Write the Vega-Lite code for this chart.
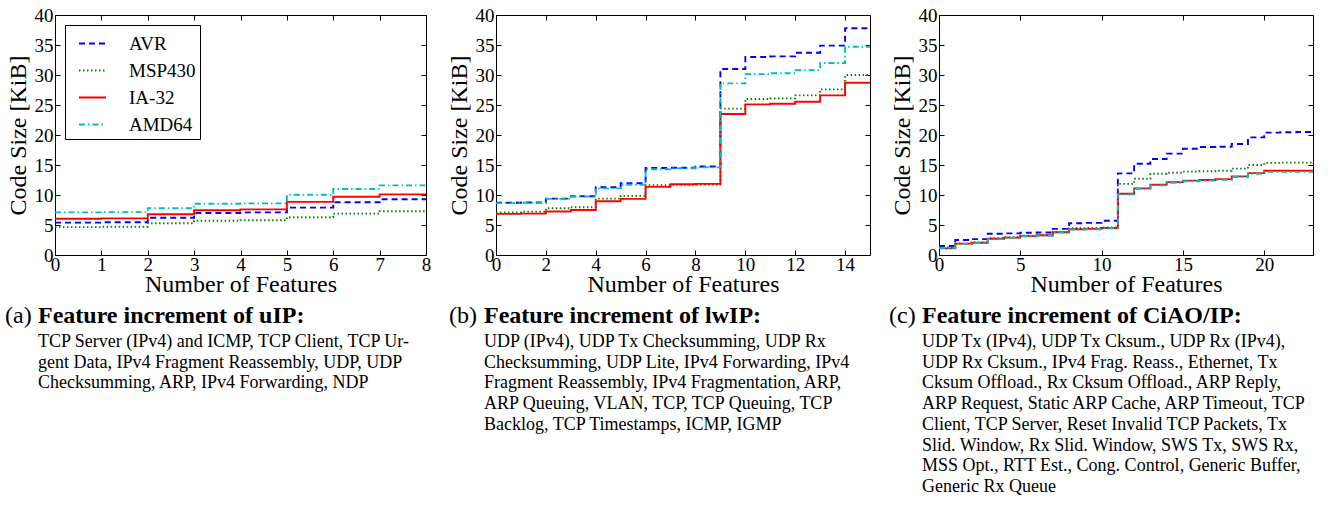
{
  "$schema": "https://vega.github.io/schema/vega-lite/v6.json",
  "padding": {"left": 5, "top": 5, "right": 0, "bottom": 0},
  "background": "white",
  "config": {
    "font": "Liberation Serif",
    "view": {"stroke": "black", "strokeWidth": 1},
    "axis": {
      "grid": false, "domain": false, "tickColor": "black", "tickSize": -5, "tickWidth": 1,
      "labelPadding": 7, "labelFontSize": 19, "labelColor": "black", "labelFlush": false, "labelOverlap": false,
      "titleFontSize": 24, "titleFontWeight": "normal", "titleColor": "black"
    },
    "axisX": {"titlePadding": -2, "labelPadding": 5},
    "legend": {
      "orient": "top-left", "offset": 10, "title": null, "padding": 4, "symbolOffset": 9,
      "strokeColor": "black", "fillColor": "white", "cornerRadius": 0,
      "labelFontSize": 19, "labelColor": "black", "labelOffset": 22, "rowPadding": 2,
      "symbolType": "stroke", "symbolSize": 729, "symbolStrokeWidth": 1.9
    }
  },
  "datasets": {
    "steps": [
      {"stack":"uIP","arch":"AVR","features":0,"kib":5.4},{"stack":"uIP","arch":"AVR","features":1,"kib":5.45},{"stack":"uIP","arch":"AVR","features":2,"kib":6.2},{"stack":"uIP","arch":"AVR","features":3,"kib":7.0},{"stack":"uIP","arch":"AVR","features":4,"kib":7.1},{"stack":"uIP","arch":"AVR","features":5,"kib":7.9},{"stack":"uIP","arch":"AVR","features":6,"kib":8.8},{"stack":"uIP","arch":"AVR","features":7,"kib":9.3},{"stack":"uIP","arch":"AVR","features":8,"kib":9.3},
      {"stack":"uIP","arch":"MSP430","features":0,"kib":4.65},{"stack":"uIP","arch":"MSP430","features":1,"kib":4.7},{"stack":"uIP","arch":"MSP430","features":2,"kib":5.3},{"stack":"uIP","arch":"MSP430","features":3,"kib":5.7},{"stack":"uIP","arch":"MSP430","features":4,"kib":5.8},{"stack":"uIP","arch":"MSP430","features":5,"kib":6.3},{"stack":"uIP","arch":"MSP430","features":6,"kib":6.9},{"stack":"uIP","arch":"MSP430","features":7,"kib":7.3},{"stack":"uIP","arch":"MSP430","features":8,"kib":7.3},
      {"stack":"uIP","arch":"IA-32","features":0,"kib":6.05},{"stack":"uIP","arch":"IA-32","features":1,"kib":6.1},{"stack":"uIP","arch":"IA-32","features":2,"kib":6.8},{"stack":"uIP","arch":"IA-32","features":3,"kib":7.45},{"stack":"uIP","arch":"IA-32","features":4,"kib":7.6},{"stack":"uIP","arch":"IA-32","features":5,"kib":8.85},{"stack":"uIP","arch":"IA-32","features":6,"kib":9.7},{"stack":"uIP","arch":"IA-32","features":7,"kib":10.1},{"stack":"uIP","arch":"IA-32","features":8,"kib":10.1},
      {"stack":"uIP","arch":"AMD64","features":0,"kib":7.1},{"stack":"uIP","arch":"AMD64","features":1,"kib":7.15},{"stack":"uIP","arch":"AMD64","features":2,"kib":7.8},{"stack":"uIP","arch":"AMD64","features":3,"kib":8.55},{"stack":"uIP","arch":"AMD64","features":4,"kib":8.6},{"stack":"uIP","arch":"AMD64","features":5,"kib":10.05},{"stack":"uIP","arch":"AMD64","features":6,"kib":11.0},{"stack":"uIP","arch":"AMD64","features":7,"kib":11.6},{"stack":"uIP","arch":"AMD64","features":8,"kib":11.6},

      {"stack":"lwIP","arch":"AVR","features":0,"kib":8.7},{"stack":"lwIP","arch":"AVR","features":1,"kib":8.75},{"stack":"lwIP","arch":"AVR","features":2,"kib":9.4},{"stack":"lwIP","arch":"AVR","features":3,"kib":9.8},{"stack":"lwIP","arch":"AVR","features":4,"kib":11.3},{"stack":"lwIP","arch":"AVR","features":5,"kib":11.95},{"stack":"lwIP","arch":"AVR","features":6,"kib":14.5},{"stack":"lwIP","arch":"AVR","features":7,"kib":14.55},{"stack":"lwIP","arch":"AVR","features":8,"kib":14.75},{"stack":"lwIP","arch":"AVR","features":9,"kib":31.0},{"stack":"lwIP","arch":"AVR","features":10,"kib":33.0},{"stack":"lwIP","arch":"AVR","features":11,"kib":33.1},{"stack":"lwIP","arch":"AVR","features":12,"kib":33.7},{"stack":"lwIP","arch":"AVR","features":13,"kib":34.9},{"stack":"lwIP","arch":"AVR","features":14,"kib":37.8},{"stack":"lwIP","arch":"AVR","features":15,"kib":37.8},
      {"stack":"lwIP","arch":"MSP430","features":0,"kib":7.1},{"stack":"lwIP","arch":"MSP430","features":1,"kib":7.2},{"stack":"lwIP","arch":"MSP430","features":2,"kib":7.8},{"stack":"lwIP","arch":"MSP430","features":3,"kib":7.95},{"stack":"lwIP","arch":"MSP430","features":4,"kib":9.4},{"stack":"lwIP","arch":"MSP430","features":5,"kib":9.85},{"stack":"lwIP","arch":"MSP430","features":6,"kib":11.65},{"stack":"lwIP","arch":"MSP430","features":7,"kib":11.7},{"stack":"lwIP","arch":"MSP430","features":8,"kib":11.75},{"stack":"lwIP","arch":"MSP430","features":9,"kib":24.4},{"stack":"lwIP","arch":"MSP430","features":10,"kib":26.0},{"stack":"lwIP","arch":"MSP430","features":11,"kib":26.1},{"stack":"lwIP","arch":"MSP430","features":12,"kib":26.6},{"stack":"lwIP","arch":"MSP430","features":13,"kib":27.6},{"stack":"lwIP","arch":"MSP430","features":14,"kib":30.0},{"stack":"lwIP","arch":"MSP430","features":15,"kib":30.0},
      {"stack":"lwIP","arch":"IA-32","features":0,"kib":6.85},{"stack":"lwIP","arch":"IA-32","features":1,"kib":6.9},{"stack":"lwIP","arch":"IA-32","features":2,"kib":7.25},{"stack":"lwIP","arch":"IA-32","features":3,"kib":7.5},{"stack":"lwIP","arch":"IA-32","features":4,"kib":8.95},{"stack":"lwIP","arch":"IA-32","features":5,"kib":9.35},{"stack":"lwIP","arch":"IA-32","features":6,"kib":11.35},{"stack":"lwIP","arch":"IA-32","features":7,"kib":11.8},{"stack":"lwIP","arch":"IA-32","features":8,"kib":11.85},{"stack":"lwIP","arch":"IA-32","features":9,"kib":23.5},{"stack":"lwIP","arch":"IA-32","features":10,"kib":25.1},{"stack":"lwIP","arch":"IA-32","features":11,"kib":25.2},{"stack":"lwIP","arch":"IA-32","features":12,"kib":25.55},{"stack":"lwIP","arch":"IA-32","features":13,"kib":26.6},{"stack":"lwIP","arch":"IA-32","features":14,"kib":28.7},{"stack":"lwIP","arch":"IA-32","features":15,"kib":28.7},
      {"stack":"lwIP","arch":"AMD64","features":0,"kib":8.65},{"stack":"lwIP","arch":"AMD64","features":1,"kib":8.7},{"stack":"lwIP","arch":"AMD64","features":2,"kib":9.35},{"stack":"lwIP","arch":"AMD64","features":3,"kib":9.75},{"stack":"lwIP","arch":"AMD64","features":4,"kib":11.1},{"stack":"lwIP","arch":"AMD64","features":5,"kib":11.7},{"stack":"lwIP","arch":"AMD64","features":6,"kib":14.3},{"stack":"lwIP","arch":"AMD64","features":7,"kib":14.45},{"stack":"lwIP","arch":"AMD64","features":8,"kib":14.6},{"stack":"lwIP","arch":"AMD64","features":9,"kib":28.6},{"stack":"lwIP","arch":"AMD64","features":10,"kib":30.15},{"stack":"lwIP","arch":"AMD64","features":11,"kib":30.3},{"stack":"lwIP","arch":"AMD64","features":12,"kib":30.8},{"stack":"lwIP","arch":"AMD64","features":13,"kib":32.0},{"stack":"lwIP","arch":"AMD64","features":14,"kib":34.7},{"stack":"lwIP","arch":"AMD64","features":15,"kib":34.7},

      {"stack":"CiAO","arch":"AVR","features":0,"kib":1.5},{"stack":"CiAO","arch":"AVR","features":1,"kib":2.5},{"stack":"CiAO","arch":"AVR","features":2,"kib":2.65},{"stack":"CiAO","arch":"AVR","features":3,"kib":3.55},{"stack":"CiAO","arch":"AVR","features":4,"kib":3.6},{"stack":"CiAO","arch":"AVR","features":5,"kib":3.7},{"stack":"CiAO","arch":"AVR","features":6,"kib":3.75},{"stack":"CiAO","arch":"AVR","features":7,"kib":4.35},{"stack":"CiAO","arch":"AVR","features":8,"kib":5.3},{"stack":"CiAO","arch":"AVR","features":9,"kib":5.35},{"stack":"CiAO","arch":"AVR","features":10,"kib":5.7},{"stack":"CiAO","arch":"AVR","features":11,"kib":13.6},{"stack":"CiAO","arch":"AVR","features":12,"kib":15.2},{"stack":"CiAO","arch":"AVR","features":13,"kib":16.0},{"stack":"CiAO","arch":"AVR","features":14,"kib":16.9},{"stack":"CiAO","arch":"AVR","features":15,"kib":17.7},{"stack":"CiAO","arch":"AVR","features":16,"kib":18.0},{"stack":"CiAO","arch":"AVR","features":17,"kib":18.05},{"stack":"CiAO","arch":"AVR","features":18,"kib":18.5},{"stack":"CiAO","arch":"AVR","features":19,"kib":19.6},{"stack":"CiAO","arch":"AVR","features":20,"kib":20.4},{"stack":"CiAO","arch":"AVR","features":21,"kib":20.45},{"stack":"CiAO","arch":"AVR","features":22,"kib":20.5},{"stack":"CiAO","arch":"AVR","features":23,"kib":20.5},
      {"stack":"CiAO","arch":"MSP430","features":0,"kib":1.25},{"stack":"CiAO","arch":"MSP430","features":1,"kib":1.9},{"stack":"CiAO","arch":"MSP430","features":2,"kib":2.1},{"stack":"CiAO","arch":"MSP430","features":3,"kib":2.8},{"stack":"CiAO","arch":"MSP430","features":4,"kib":2.95},{"stack":"CiAO","arch":"MSP430","features":5,"kib":3.2},{"stack":"CiAO","arch":"MSP430","features":6,"kib":3.3},{"stack":"CiAO","arch":"MSP430","features":7,"kib":3.85},{"stack":"CiAO","arch":"MSP430","features":8,"kib":4.45},{"stack":"CiAO","arch":"MSP430","features":9,"kib":4.5},{"stack":"CiAO","arch":"MSP430","features":10,"kib":4.6},{"stack":"CiAO","arch":"MSP430","features":11,"kib":11.85},{"stack":"CiAO","arch":"MSP430","features":12,"kib":12.7},{"stack":"CiAO","arch":"MSP430","features":13,"kib":13.55},{"stack":"CiAO","arch":"MSP430","features":14,"kib":13.7},{"stack":"CiAO","arch":"MSP430","features":15,"kib":13.9},{"stack":"CiAO","arch":"MSP430","features":16,"kib":13.95},{"stack":"CiAO","arch":"MSP430","features":17,"kib":14.05},{"stack":"CiAO","arch":"MSP430","features":18,"kib":14.4},{"stack":"CiAO","arch":"MSP430","features":19,"kib":15.0},{"stack":"CiAO","arch":"MSP430","features":20,"kib":15.35},{"stack":"CiAO","arch":"MSP430","features":21,"kib":15.4},{"stack":"CiAO","arch":"MSP430","features":22,"kib":15.4},{"stack":"CiAO","arch":"MSP430","features":23,"kib":15.4},
      {"stack":"CiAO","arch":"IA-32","features":0,"kib":1.1},{"stack":"CiAO","arch":"IA-32","features":1,"kib":1.9},{"stack":"CiAO","arch":"IA-32","features":2,"kib":2.05},{"stack":"CiAO","arch":"IA-32","features":3,"kib":2.7},{"stack":"CiAO","arch":"IA-32","features":4,"kib":2.9},{"stack":"CiAO","arch":"IA-32","features":5,"kib":3.15},{"stack":"CiAO","arch":"IA-32","features":6,"kib":3.3},{"stack":"CiAO","arch":"IA-32","features":7,"kib":3.8},{"stack":"CiAO","arch":"IA-32","features":8,"kib":4.3},{"stack":"CiAO","arch":"IA-32","features":9,"kib":4.35},{"stack":"CiAO","arch":"IA-32","features":10,"kib":4.5},{"stack":"CiAO","arch":"IA-32","features":11,"kib":10.2},{"stack":"CiAO","arch":"IA-32","features":12,"kib":11.1},{"stack":"CiAO","arch":"IA-32","features":13,"kib":11.7},{"stack":"CiAO","arch":"IA-32","features":14,"kib":12.15},{"stack":"CiAO","arch":"IA-32","features":15,"kib":12.4},{"stack":"CiAO","arch":"IA-32","features":16,"kib":12.5},{"stack":"CiAO","arch":"IA-32","features":17,"kib":12.65},{"stack":"CiAO","arch":"IA-32","features":18,"kib":13.1},{"stack":"CiAO","arch":"IA-32","features":19,"kib":13.65},{"stack":"CiAO","arch":"IA-32","features":20,"kib":14.05},{"stack":"CiAO","arch":"IA-32","features":21,"kib":14.05},{"stack":"CiAO","arch":"IA-32","features":22,"kib":14.05},{"stack":"CiAO","arch":"IA-32","features":23,"kib":14.05},
      {"stack":"CiAO","arch":"AMD64","features":0,"kib":1.15},{"stack":"CiAO","arch":"AMD64","features":1,"kib":1.85},{"stack":"CiAO","arch":"AMD64","features":2,"kib":2.0},{"stack":"CiAO","arch":"AMD64","features":3,"kib":2.65},{"stack":"CiAO","arch":"AMD64","features":4,"kib":2.85},{"stack":"CiAO","arch":"AMD64","features":5,"kib":3.1},{"stack":"CiAO","arch":"AMD64","features":6,"kib":3.25},{"stack":"CiAO","arch":"AMD64","features":7,"kib":3.75},{"stack":"CiAO","arch":"AMD64","features":8,"kib":4.25},{"stack":"CiAO","arch":"AMD64","features":9,"kib":4.3},{"stack":"CiAO","arch":"AMD64","features":10,"kib":4.45},{"stack":"CiAO","arch":"AMD64","features":11,"kib":10.1},{"stack":"CiAO","arch":"AMD64","features":12,"kib":11.05},{"stack":"CiAO","arch":"AMD64","features":13,"kib":11.6},{"stack":"CiAO","arch":"AMD64","features":14,"kib":12.05},{"stack":"CiAO","arch":"AMD64","features":15,"kib":12.3},{"stack":"CiAO","arch":"AMD64","features":16,"kib":12.4},{"stack":"CiAO","arch":"AMD64","features":17,"kib":12.55},{"stack":"CiAO","arch":"AMD64","features":18,"kib":13.0},{"stack":"CiAO","arch":"AMD64","features":19,"kib":13.55},{"stack":"CiAO","arch":"AMD64","features":20,"kib":13.85},{"stack":"CiAO","arch":"AMD64","features":21,"kib":13.85},{"stack":"CiAO","arch":"AMD64","features":22,"kib":13.85},{"stack":"CiAO","arch":"AMD64","features":23,"kib":13.85}
    ],
    "captions": [
      {"stack":"uIP","role":"label","line":0,"text":"(a)"},
      {"stack":"uIP","role":"heading","line":0,"text":"Feature increment of uIP:"},
      {"stack":"uIP","role":"body","line":1,"text":"TCP Server (IPv4) and ICMP, TCP Client, TCP Ur-"},
      {"stack":"uIP","role":"body","line":2,"text":"gent Data, IPv4 Fragment Reassembly, UDP, UDP"},
      {"stack":"uIP","role":"body","line":3,"text":"Checksumming, ARP, IPv4 Forwarding, NDP"},
      {"stack":"lwIP","role":"label","line":0,"text":"(b)"},
      {"stack":"lwIP","role":"heading","line":0,"text":"Feature increment of lwIP:"},
      {"stack":"lwIP","role":"body","line":1,"text":"UDP (IPv4), UDP Tx Checksumming, UDP Rx"},
      {"stack":"lwIP","role":"body","line":2,"text":"Checksumming, UDP Lite, IPv4 Forwarding, IPv4"},
      {"stack":"lwIP","role":"body","line":3,"text":"Fragment Reassembly, IPv4 Fragmentation, ARP,"},
      {"stack":"lwIP","role":"body","line":4,"text":"ARP Queuing, VLAN, TCP, TCP Queuing, TCP"},
      {"stack":"lwIP","role":"body","line":5,"text":"Backlog, TCP Timestamps, ICMP, IGMP"},
      {"stack":"CiAO","role":"label","line":0,"text":"(c)"},
      {"stack":"CiAO","role":"heading","line":0,"text":"Feature increment of CiAO/IP:"},
      {"stack":"CiAO","role":"body","line":1,"text":"UDP Tx (IPv4), UDP Tx Cksum., UDP Rx (IPv4),"},
      {"stack":"CiAO","role":"body","line":2,"text":"UDP Rx Cksum., IPv4 Frag.  Reass., Ethernet, Tx"},
      {"stack":"CiAO","role":"body","line":3,"text":"Cksum Offload., Rx Cksum Offload., ARP Reply,"},
      {"stack":"CiAO","role":"body","line":4,"text":"ARP Request, Static ARP Cache, ARP Timeout, TCP"},
      {"stack":"CiAO","role":"body","line":5,"text":"Client, TCP Server, Reset Invalid TCP Packets, Tx"},
      {"stack":"CiAO","role":"body","line":6,"text":"Slid. Window, Rx Slid. Window, SWS Tx, SWS Rx,"},
      {"stack":"CiAO","role":"body","line":7,"text":"MSS Opt., RTT Est., Cong. Control, Generic Buffer,"},
      {"stack":"CiAO","role":"body","line":8,"text":"Generic Rx Queue"}
    ]
  },
  "columns": 1,
  "align": "none",
  "spacing": 6,
  "concat": [
    {
      "spacing": 14,
      "hconcat": [
        {
          "width": 371, "height": 240,
          "data": {"name": "steps"},
          "transform": [{"filter": "datum.stack == 'uIP'"}],
          "encoding": {
            "x": {"field": "features", "type": "quantitative", "scale": {"domain": [0, 8], "nice": false}, "title": "Number of Features", "axis": {"values": [0,1,2,3,4,5,6,7,8]}},
            "y": {"field": "kib", "type": "quantitative", "scale": {"domain": [0, 40], "nice": false}, "title": "Code Size [KiB]", "axis": {"values": [0,5,10,15,20,25,30,35,40]}},
            "color": {"field": "arch", "type": "nominal", "scale": {"domain": ["AVR","MSP430","IA-32","AMD64"], "range": ["#0000ff","#008000","#ff0000","#00bfbf"]}},
            "strokeDash": {"field": "arch", "type": "nominal", "scale": {"domain": ["AVR","MSP430","IA-32","AMD64"], "range": [[6,4],[1.5,2.5],[1,0],[6,3,1.5,3]]}}
          },
          "layer": [
            {"transform": [{"filter": "datum.arch != 'AMD64'"}], "mark": {"type": "line", "interpolate": "step-after", "strokeWidth": 1.9}},
            {"transform": [{"filter": "datum.arch == 'AMD64'"}], "mark": {"type": "line", "interpolate": "step-after", "strokeWidth": 1.9},
             "encoding": {
               "x": {"field": "features", "type": "quantitative", "scale": {"domain": [0, 8], "nice": false}, "axis": {"orient": "top", "labels": false, "title": null, "values": [0,1,2,3,4,5,6,7,8]}},
               "y": {"field": "kib", "type": "quantitative", "scale": {"domain": [0, 40], "nice": false}, "axis": {"orient": "right", "labels": false, "title": null, "values": [0,5,10,15,20,25,30,35,40]}}
             }}
          ],
          "resolve": {"axis": {"x": "independent", "y": "independent"}}
        },
        {
          "width": 374, "height": 240,
          "data": {"name": "steps"},
          "transform": [{"filter": "datum.stack == 'lwIP'"}],
          "encoding": {
            "x": {"field": "features", "type": "quantitative", "scale": {"domain": [0, 15], "nice": false}, "title": "Number of Features", "axis": {"values": [0,2,4,6,8,10,12,14]}},
            "y": {"field": "kib", "type": "quantitative", "scale": {"domain": [0, 40], "nice": false}, "title": "Code Size [KiB]", "axis": {"values": [0,5,10,15,20,25,30,35,40]}},
            "color": {"field": "arch", "type": "nominal", "scale": {"domain": ["AVR","MSP430","IA-32","AMD64"], "range": ["#0000ff","#008000","#ff0000","#00bfbf"]}},
            "strokeDash": {"field": "arch", "type": "nominal", "scale": {"domain": ["AVR","MSP430","IA-32","AMD64"], "range": [[6,4],[1.5,2.5],[1,0],[6,3,1.5,3]]}}
          },
          "layer": [
            {"transform": [{"filter": "datum.arch != 'AMD64'"}], "mark": {"type": "line", "interpolate": "step-after", "strokeWidth": 1.9}},
            {"transform": [{"filter": "datum.arch == 'AMD64'"}], "mark": {"type": "line", "interpolate": "step-after", "strokeWidth": 1.9},
             "encoding": {
               "x": {"field": "features", "type": "quantitative", "scale": {"domain": [0, 15], "nice": false}, "axis": {"orient": "top", "labels": false, "title": null, "values": [0,2,4,6,8,10,12,14]}},
               "y": {"field": "kib", "type": "quantitative", "scale": {"domain": [0, 40], "nice": false}, "axis": {"orient": "right", "labels": false, "title": null, "values": [0,5,10,15,20,25,30,35,40]}}
             }}
          ],
          "resolve": {"axis": {"x": "independent", "y": "independent"}}
        },
        {
          "width": 374, "height": 240,
          "data": {"name": "steps"},
          "transform": [{"filter": "datum.stack == 'CiAO'"}],
          "encoding": {
            "x": {"field": "features", "type": "quantitative", "scale": {"domain": [0, 23], "nice": false}, "title": "Number of Features", "axis": {"values": [0,5,10,15,20]}},
            "y": {"field": "kib", "type": "quantitative", "scale": {"domain": [0, 40], "nice": false}, "title": "Code Size [KiB]", "axis": {"values": [0,5,10,15,20,25,30,35,40]}},
            "color": {"field": "arch", "type": "nominal", "scale": {"domain": ["AVR","MSP430","IA-32","AMD64"], "range": ["#0000ff","#008000","#ff0000","#00bfbf"]}},
            "strokeDash": {"field": "arch", "type": "nominal", "scale": {"domain": ["AVR","MSP430","IA-32","AMD64"], "range": [[6,4],[1.5,2.5],[1,0],[6,3,1.5,3]]}}
          },
          "layer": [
            {"transform": [{"filter": "datum.arch != 'AMD64'"}], "mark": {"type": "line", "interpolate": "step-after", "strokeWidth": 1.9}},
            {"transform": [{"filter": "datum.arch == 'AMD64'"}], "mark": {"type": "line", "interpolate": "step-after", "strokeWidth": 1.9},
             "encoding": {
               "x": {"field": "features", "type": "quantitative", "scale": {"domain": [0, 23], "nice": false}, "axis": {"orient": "top", "labels": false, "title": null, "values": [0,5,10,15,20]}},
               "y": {"field": "kib", "type": "quantitative", "scale": {"domain": [0, 40], "nice": false}, "axis": {"orient": "right", "labels": false, "title": null, "values": [0,5,10,15,20,25,30,35,40]}}
             }}
          ],
          "resolve": {"axis": {"x": "independent", "y": "independent"}}
        }
      ]
    },
    {
      "spacing": 0,
      "hconcat": [
        {
          "width": 394, "height": 166, "view": {"stroke": null},
          "data": {"name": "captions"},
          "transform": [{"filter": "datum.stack == 'uIP'"}],
          "encoding": {
            "x": {"datum": 0, "type": "quantitative", "scale": {"domain": [0, 1]}, "axis": null},
            "y": {"field": "line", "type": "quantitative", "scale": {"domain": [0, 8], "reverse": true, "nice": false}, "axis": null},
            "text": {"field": "text"}
          },
          "layer": [
            {"transform": [{"filter": "datum.role == 'label'"}], "mark": {"type": "text", "align": "left", "baseline": "alphabetic", "fontSize": 24, "dx": -50, "dy": -3.5, "color": "black"}},
            {"transform": [{"filter": "datum.role == 'heading'"}], "mark": {"type": "text", "align": "left", "baseline": "alphabetic", "fontSize": 24, "fontWeight": "bold", "dx": -17, "dy": -3.5, "color": "black"}},
            {"transform": [{"filter": "datum.role == 'body'"}], "mark": {"type": "text", "align": "left", "baseline": "alphabetic", "fontSize": 18, "dx": -17, "color": "black"}}
          ]
        },
        {
          "width": 405, "height": 166, "view": {"stroke": null},
          "data": {"name": "captions"},
          "transform": [{"filter": "datum.stack == 'lwIP'"}],
          "encoding": {
            "x": {"datum": 0, "type": "quantitative", "scale": {"domain": [0, 1]}, "axis": null},
            "y": {"field": "line", "type": "quantitative", "scale": {"domain": [0, 8], "reverse": true, "nice": false}, "axis": null},
            "text": {"field": "text"}
          },
          "layer": [
            {"transform": [{"filter": "datum.role == 'label'"}], "mark": {"type": "text", "align": "left", "baseline": "alphabetic", "fontSize": 24, "dx": -35, "dy": -3.5, "color": "black"}},
            {"transform": [{"filter": "datum.role == 'heading'"}], "mark": {"type": "text", "align": "left", "baseline": "alphabetic", "fontSize": 24, "fontWeight": "bold", "dy": -3.5, "color": "black"}},
            {"transform": [{"filter": "datum.role == 'body'"}], "mark": {"type": "text", "align": "left", "baseline": "alphabetic", "fontSize": 18, "color": "black"}}
          ]
        },
        {
          "width": 405, "height": 166, "view": {"stroke": null},
          "data": {"name": "captions"},
          "transform": [{"filter": "datum.stack == 'CiAO'"}],
          "encoding": {
            "x": {"datum": 0, "type": "quantitative", "scale": {"domain": [0, 1]}, "axis": null},
            "y": {"field": "line", "type": "quantitative", "scale": {"domain": [0, 8], "reverse": true, "nice": false}, "axis": null},
            "text": {"field": "text"}
          },
          "layer": [
            {"transform": [{"filter": "datum.role == 'label'"}], "mark": {"type": "text", "align": "left", "baseline": "alphabetic", "fontSize": 24, "dx": -33, "dy": -3.5, "color": "black"}},
            {"transform": [{"filter": "datum.role == 'heading'"}], "mark": {"type": "text", "align": "left", "baseline": "alphabetic", "fontSize": 24, "fontWeight": "bold", "dy": -3.5, "color": "black"}},
            {"transform": [{"filter": "datum.role == 'body'"}], "mark": {"type": "text", "align": "left", "baseline": "alphabetic", "fontSize": 18, "color": "black"}}
          ]
        }
      ]
    }
  ]
}
